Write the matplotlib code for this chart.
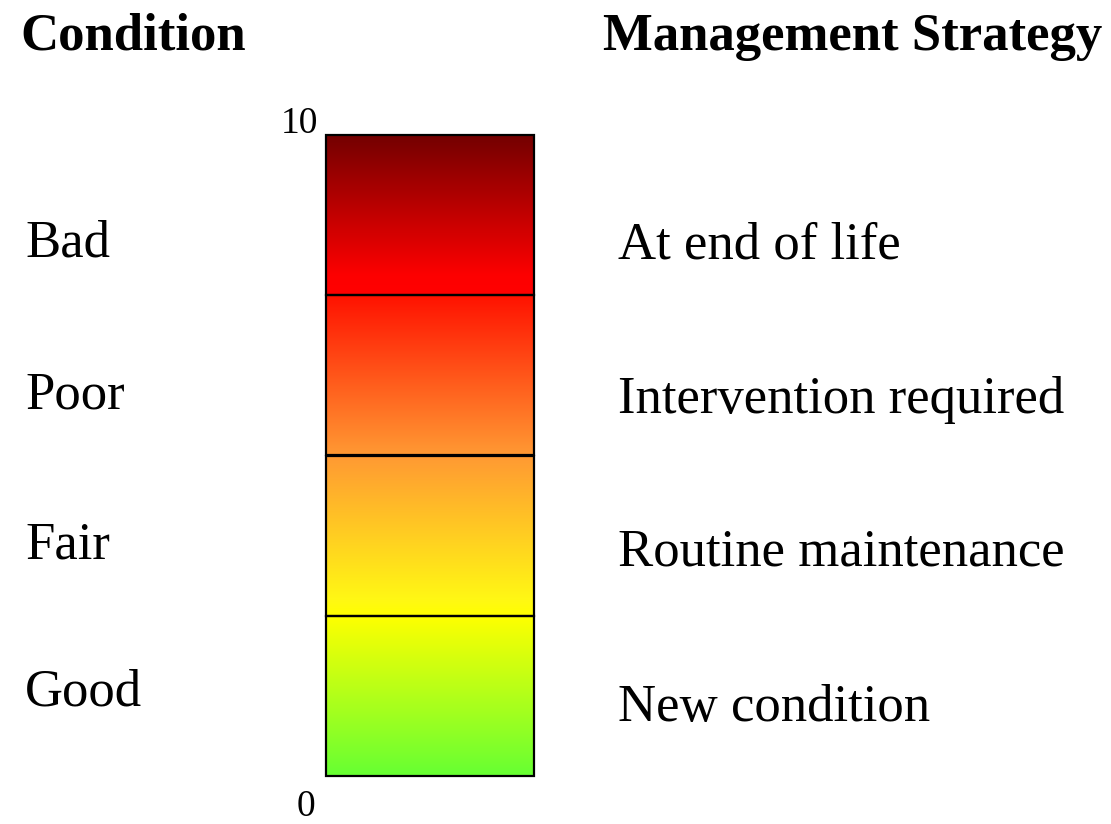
import numpy as np
import matplotlib
matplotlib.use('Agg')
import matplotlib.pyplot as plt
from matplotlib.colors import LinearSegmentedColormap
from matplotlib.patches import Rectangle
import matplotlib.transforms as mtransforms

plt.rcParams['font.family'] = ['Liberation Serif', 'DejaVu Serif']

# Condition scale bands (bottom -> top)
band_edges = [0, 2.5, 5, 7.5, 10]
band_colors = [
    [(0.0, '#66ff33'), (1.0, '#ffff00')],
    [(0.0, '#ffff00'), (0.1, '#fff814'), (1.0, '#ff9933')],
    [(0.0, '#ff9933'), (1.0, '#ff1100')],
    [(0.0, '#ff0000'), (0.12, '#fd0000'), (1.0, '#730000')],
]

conditions = ['Good', 'Fair', 'Poor', 'Bad']
condition_y = [1.31, 3.60, 5.94, 8.31]
strategies = ['New condition', 'Routine maintenance', 'Intervention required', 'At end of life']
strategy_y = [1.06, 3.48, 5.87, 8.28]

scale_min, scale_max = 0, 10

fig = plt.figure(figsize=(11.11, 8.24), dpi=100)
ax = fig.add_axes([326 / 1111, 48 / 824, 208 / 1111, 641 / 824])
ax.set_xlim(0, 1)
ax.set_ylim(scale_min, scale_max)
ax.axis('off')

grad = np.linspace(0, 1, 256).reshape(-1, 1)
for i in range(len(band_edges) - 1):
    lo, hi = band_edges[i], band_edges[i + 1]
    cmap = LinearSegmentedColormap.from_list(f'band{i}', band_colors[i])
    ax.imshow(grad, cmap=cmap, aspect='auto', origin='lower',
              extent=[0, 1, lo, hi], interpolation='bilinear', zorder=1)
    ax.add_patch(Rectangle((0, lo), 1, hi - lo, fill=False, edgecolor='black',
                           linewidth=1.6, zorder=2, clip_on=False))

# labels on both sides, x in figure fraction, y in scale units
trans = mtransforms.blended_transform_factory(fig.transFigure, ax.transData)
for name, y in zip(conditions, condition_y):
    ax.text(25 / 1111, y, name, transform=trans, fontsize=38, va='center', ha='left')
for name, y in zip(strategies, strategy_y):
    ax.text(618 / 1111, y, name, transform=trans, fontsize=38, va='center', ha='left')

# scale end labels
ax.text(318 / 1111, scale_max + 0.03, str(scale_max), transform=trans, fontsize=27,
        ha='right', va='baseline')
ax.text(306 / 1111, scale_min - 0.62, str(scale_min), transform=trans, fontsize=27,
        ha='center', va='baseline')

fig.text(20 / 1111, 1 - 50 / 824, 'Condition', fontsize=38, fontweight='bold',
         ha='left', va='baseline')
fig.text(603 / 1111, 1 - 50 / 824, 'Management Strategy', fontsize=38, fontweight='bold',
         ha='left', va='baseline')

fig.savefig('out.png', dpi=100)
